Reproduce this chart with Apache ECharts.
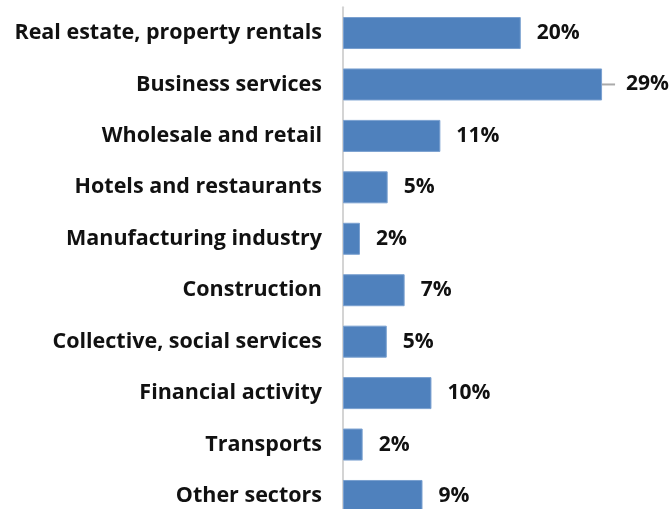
<!DOCTYPE html>
<html><head><meta charset="utf-8">
<script src="https://cdn.jsdelivr.net/npm/echarts@6/dist/echarts.min.js"></script>
<style>html,body{margin:0;padding:0;background:#fff;overflow:hidden}#c{width:670px;height:509px}</style>
</head><body><div id="c"></div>
<script>
const categories = ["Real estate, property rentals","Business services","Wholesale and retail","Hotels and restaurants","Manufacturing industry","Construction","Collective, social services","Financial activity","Transports","Other sectors"];
const shares = [19.9, 29.0, 10.9, 5.0, 1.9, 6.9, 4.9, 9.9, 2.2, 8.9];
const shareLabels = ["20%","29%","11%","5%","2%","7%","5%","10%","2%","9%"];

const chart = echarts.init(document.getElementById('c'), null, {renderer:'canvas'});
chart.setOption({
  animation:false,
  grid:{left:343, width:268, top:7.3, height:514.4, containLabel:false, outerBoundsMode:'none'},
  xAxis:{type:'value', min:0, max:30, show:false},
  yAxis:{type:'category', inverse:true, data:categories,
    axisLine:{show:true, lineStyle:{color:'#d4d4d4', width:2}},
    axisTick:{show:false},
    axisLabel:{margin:21, color:'#111', fontFamily:'Open Sans', fontWeight:'bold', fontSize:21.5}},
  series:[{type:'bar', data:shares.map((v,i)=> i===1 ? {value:v, labelLine:{show:true}} : v), barWidth:32,
    itemStyle:{color:'#4f81bd', borderColor:'#7aa0d0', borderWidth:1},
    label:{show:true, position:'right', distance:16, offset:[0,2], color:'#111', fontFamily:'Open Sans', fontWeight:'bold', fontSize:21,
      formatter:p=> p.dataIndex===1 ? '  ' + shareLabels[p.dataIndex] : shareLabels[p.dataIndex]},
    labelLine:{show:false, lineStyle:{color:'#aaa', width:2}},
    labelLayout:p=> p.dataIndex===1 ? {dx:-3} : {}
  }]
});
</script></body></html>
